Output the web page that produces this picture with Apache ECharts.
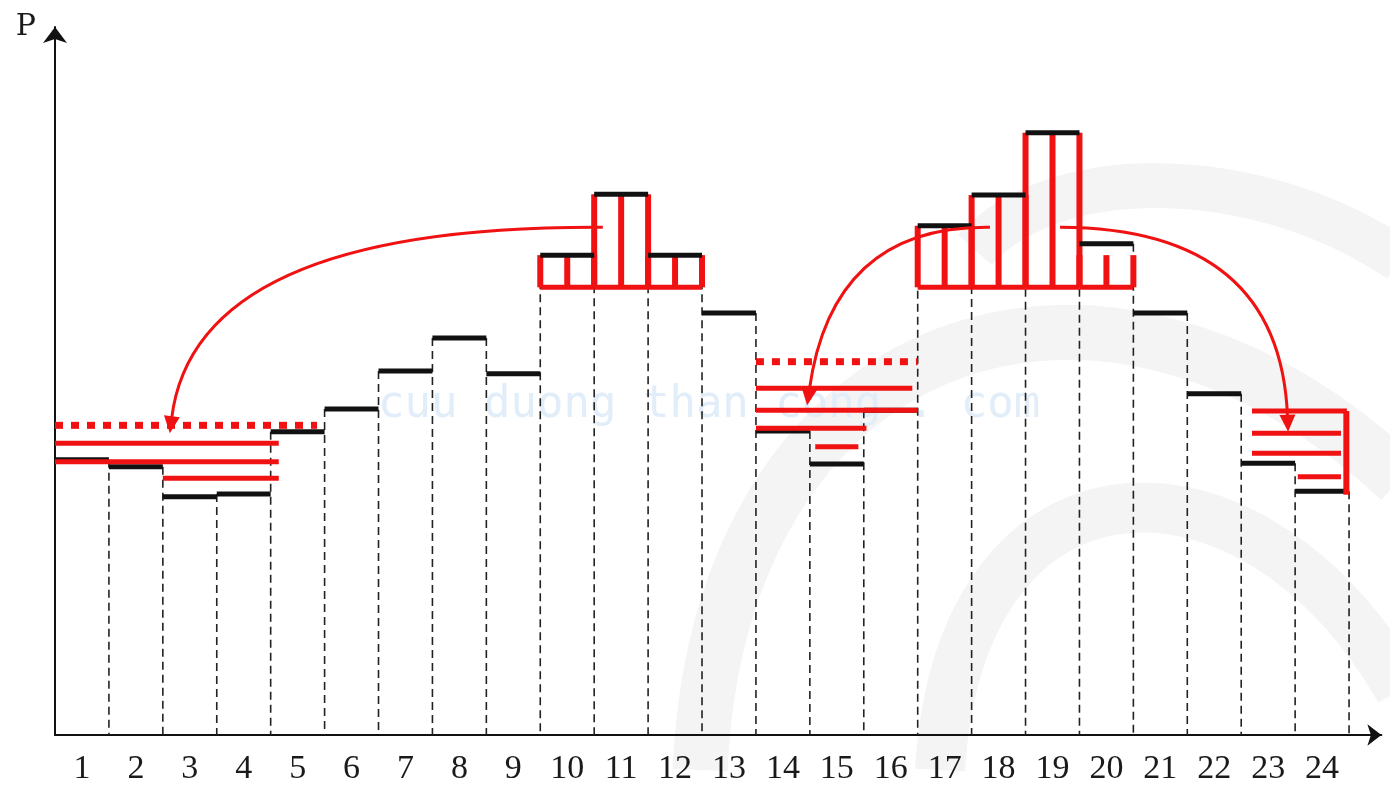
<!DOCTYPE html>
<html><head><meta charset="utf-8">
<script src="https://cdn.jsdelivr.net/npm/echarts@6/dist/echarts.min.js"></script>
<style>html,body{margin:0;padding:0;background:#fff}#c{width:1390px;height:788px}</style>
</head><body><div id="c"></div>
<script>
// ---- data ----
const hourLabels = ['1','2','3','4','5','6','7','8','9','10','11','12','13','14','15','16','17','18','19','20','21','22','23','24'];
const load = [38.5, 37.5, 33.3, 33.7, 42.4, 45.6, 50.9, 55.5, 50.5, 67.1, 75.6, 67.1, 59.0, 42.5, 37.9, 45.4, 71.2, 75.5, 84.2, 68.7, 59.0, 47.7, 38.0, 34.1];
const shaveLevel = 62.6;
const shaveHours = [10, 11, 12, 17, 18, 19, 20];
const shaveTop = [67.1, 75.6, 67.1, 71.2, 75.5, 84.2, 67.1];
const targetFrom = [0, 13];
const targetTo = [4.86, 16];
const targetLevel = [43.3, 52.2];
const fillFrom = [0, 0, 2, 13, 13, 13, 14.1, 22.2, 22.2, 22.2, 23.05];
const fillTo = [4.15, 4.15, 4.15, 15.9, 16.0, 15.05, 14.9, 23.96, 23.85, 23.85, 23.85];
const fillLevel = [40.8, 38.2, 35.9, 48.5, 45.4, 42.9, 40.3, 45.3, 42.2, 39.4, 36.1];
const edgeX = [23.95];
const edgeTop = [45.3];
const edgeBottom = [33.6];
const arrowFrom = [[10.16, 71.0], [17.34, 71.0], [18.64, 71.0]];
const arrowCtrl = [[2.60, 71.3], [14.41, 71.3], [22.72, 70.9]];
const arrowTo = [[2.13, 42.2], [13.95, 46.1], [22.87, 42.4]];
const watermark = 'cuu duong than cong . com';

// ---- styles ----
const RED = '#f01212';
const BLACK = '#111';
const BAND = '#f4f4f4';

const stepData = load.map((v, i) => [i + 1, v]);
const dashData = load.map((v, i) => [i + 1, i < load.length - 1 ? Math.max(v, load[i + 1]) : v]);
const shaveData = shaveHours.map((h, i) => [h, shaveTop[i]]);
const fillData = fillFrom.map((f, i) => [f, fillLevel[i], fillTo[i]]);
const targetData = targetFrom.map((f, i) => [f, targetLevel[i], targetTo[i]]);
const edgeData = edgeX.map((x, i) => [x, edgeTop[i], edgeBottom[i]]);
const arrowData = arrowFrom.map((a, i) => [a[0], a[1], arrowCtrl[i][0], arrowCtrl[i][1], arrowTo[i][0], arrowTo[i][1]]);

function seg(a, b, style) {
  return { type: 'line', shape: { x1: a[0], y1: a[1], x2: b[0], y2: b[1] }, style: style };
}

const chart = echarts.init(document.getElementById('c'), null, { renderer: 'canvas' });
chart.setOption({
  backgroundColor: '#fff',
  animation: false,
  grid: { left: 55, right: 8.6, top: 27, bottom: 53, containLabel: false, outerBoundsMode: 'none' },
  graphic: [
    { type: 'bezierCurve', z: -10, silent: true, shape: { x1: 975, y1: 250, cpx1: 1050, cpy1: 165, cpx2: 1250, cpy2: 160, x2: 1400, y2: 260 }, style: { stroke: BAND, lineWidth: 45, fill: null } },
    { type: 'bezierCurve', z: -10, silent: true, shape: { x1: 700, y1: 770, cpx1: 720, cpy1: 330, cpx2: 1100, cpy2: 200, x2: 1400, y2: 480 }, style: { stroke: BAND, lineWidth: 55, fill: null } },
    { type: 'bezierCurve', z: -10, silent: true, shape: { x1: 940, y1: 770, cpx1: 960, cpy1: 440, cpx2: 1250, cpy2: 430, x2: 1400, y2: 690 }, style: { stroke: BAND, lineWidth: 50, fill: null } },
    { type: 'text', z: -5, silent: true, left: 378, top: 384, style: { text: watermark, font: '44px "DejaVu Sans Mono", monospace', fill: '#e1edf8' } }
  ],
  xAxis: {
    type: 'value', min: 0, max: 24.6,
    axisLine: { show: true, symbol: ['none', 'arrow'], symbolSize: [16, 14], lineStyle: { color: BLACK, width: 2 } },
    axisTick: { show: false },
    splitLine: { show: false },
    axisLabel: {
      show: true,
      customValues: hourLabels.map((t, i) => i + 0.5),
      formatter: v => hourLabels[Math.round(v - 0.5)] || '',
      margin: 17, fontSize: 34, color: '#1a1a1a', fontFamily: '"Liberation Serif", serif'
    }
  },
  yAxis: {
    type: 'value', min: 0, max: 99,
    name: 'P', nameLocation: 'end', nameGap: 0,
    nameTextStyle: { fontFamily: '"DejaVu Serif", serif', fontSize: 30, color: '#1a1a1a', align: 'right', verticalAlign: 'middle', padding: [0, 19, 0, 0] },
    axisLine: { show: true, symbol: ['none', 'arrow'], symbolSize: [18, 16], lineStyle: { color: BLACK, width: 2 } },
    axisTick: { show: false },
    splitLine: { show: false },
    axisLabel: { show: false }
  },
  series: [
    {
      type: 'custom', name: 'dashes', clip: false, z: 2, data: dashData,
      renderItem: (p, api) => {
        const b = api.value(0), t = api.value(1);
        return seg(api.coord([b, t]), api.coord([b, 0]), { stroke: '#222', lineWidth: 1.6, lineDash: [8, 5] });
      }
    },
    {
      type: 'custom', name: 'shave', clip: false, z: 3, data: shaveData,
      renderItem: (p, api) => {
        const h = api.value(0), t = api.value(1);
        const st = { stroke: RED, lineWidth: 6 };
        return {
          type: 'group', children: [
            seg(api.coord([h - 1, shaveLevel]), api.coord([h, shaveLevel]), { stroke: RED, lineWidth: 5 }),
            seg(api.coord([h - 1, shaveLevel]), api.coord([h - 1, t]), st),
            seg(api.coord([h - 0.5, shaveLevel]), api.coord([h - 0.5, t]), st),
            seg(api.coord([h, shaveLevel]), api.coord([h, t]), st)
          ]
        };
      }
    },
    {
      type: 'custom', name: 'load', clip: false, z: 4, data: stepData,
      renderItem: (p, api) => {
        const h = api.value(0), v = api.value(1);
        return seg(api.coord([h - 1, v]), api.coord([h, v]), { stroke: BLACK, lineWidth: 5 });
      }
    },
    {
      type: 'custom', name: 'fill', clip: false, z: 5, data: fillData,
      renderItem: (p, api) => {
        const f = api.value(0), v = api.value(1), t = api.value(2);
        return seg(api.coord([f, v]), api.coord([t, v]), { stroke: RED, lineWidth: 5 });
      }
    },
    {
      type: 'custom', name: 'edge', clip: false, z: 5, data: edgeData,
      renderItem: (p, api) => {
        const x = api.value(0);
        return seg(api.coord([x, api.value(1)]), api.coord([x, api.value(2)]), { stroke: RED, lineWidth: 6 });
      }
    },
    {
      type: 'custom', name: 'target', clip: false, z: 5, data: targetData,
      renderItem: (p, api) => {
        const f = api.value(0), v = api.value(1), t = api.value(2);
        return seg(api.coord([f, v]), api.coord([t, v]), { stroke: RED, lineWidth: 7, lineDash: [8, 8] });
      }
    },
    {
      type: 'custom', name: 'arrows', clip: false, z: 6, data: arrowData,
      renderItem: (p, api) => {
        const a = api.coord([api.value(0), api.value(1)]);
        const c = api.coord([api.value(2), api.value(3)]);
        const e = api.coord([api.value(4), api.value(5)]);
        let dx = e[0] - c[0], dy = e[1] - c[1];
        const L = Math.sqrt(dx * dx + dy * dy); dx /= L; dy /= L;
        const len = 17, w = 8;
        const bx = e[0] - dx * len, by = e[1] - dy * len;
        return {
          type: 'group', children: [
            { type: 'bezierCurve', shape: { x1: a[0], y1: a[1], cpx1: c[0], cpy1: c[1], x2: bx + dx * 2, y2: by + dy * 2 }, style: { stroke: RED, lineWidth: 3, fill: null } },
            { type: 'polygon', shape: { points: [[e[0], e[1]], [bx - dy * w, by + dx * w], [bx + dy * w, by - dx * w]] }, style: { fill: RED } }
          ]
        };
      }
    }
  ]
});
</script>
</body></html>
